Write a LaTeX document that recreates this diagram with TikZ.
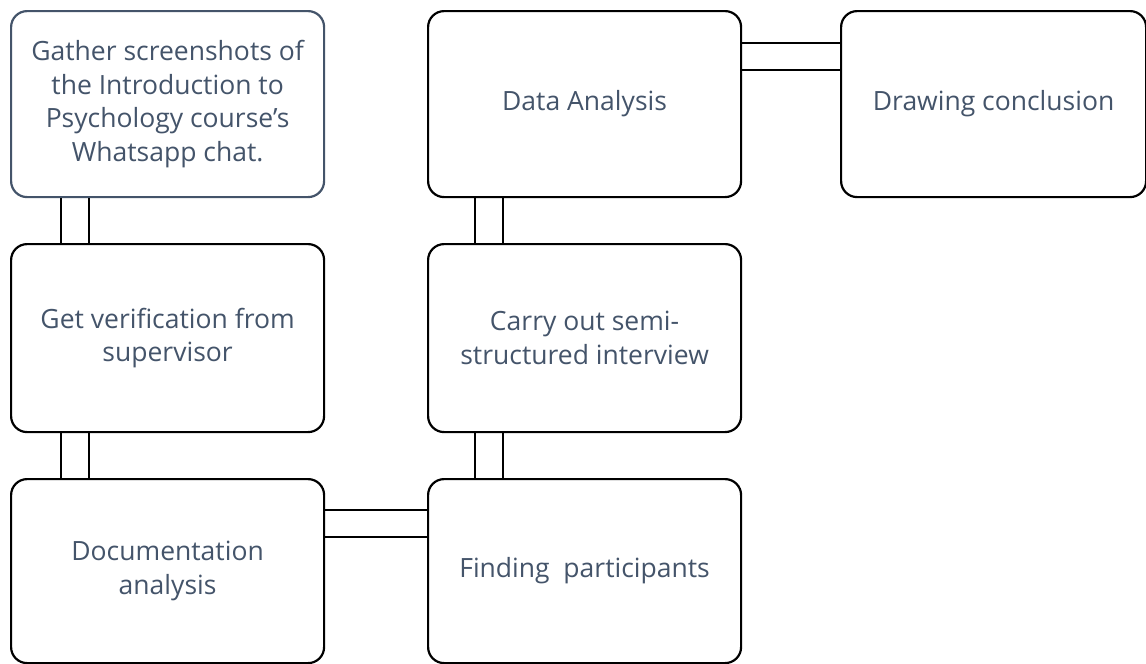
\documentclass[tikz,border=0pt]{standalone}
\usepackage{fontspec}
\setmainfont{Open Sans}[Ligatures=ResetAll]
\usetikzlibrary{calc}
\definecolor{txt}{HTML}{44546A}
\tikzset{
  box/.style={draw=black, line width=2.2pt, rounded corners=16pt, fill=white,
    anchor=north west, align=center, text=txt, inner sep=0pt,
    font=\fontsize{26.5}{33.5}\selectfont, minimum width=313pt},
  link/.style={draw=black, line width=2.2pt}
}
\begin{document}
\begin{tikzpicture}[x=1pt,y=-1pt]
\useasboundingbox (0,0) rectangle (1146,664);
\node[box, draw=txt, minimum height=186pt] (b1) at (10,10) {Gather screenshots of\\the Introduction to\\Psychology course's\\Whatsapp chat.};
\node[box, minimum height=188pt] (b2) at (10,243) {Get verification from\\supervisor};
\node[box, minimum height=184pt] (b3) at (10,478) {Documentation\\analysis};
\node[box, minimum height=184pt] (b4) at (427,478) {Finding\ \ participants};
\node[box, minimum height=188pt] (b5) at (427,243) {Carry out semi-\\structured interview};
\node[box, minimum height=186pt] (b6) at (427,10) {Data Analysis};
\node[box, minimum height=186pt, minimum width=305pt] (b7) at (840,10) {Drawing conclusion};
% links b1-b2
\draw[link] ([xshift=51pt]b1.south west) -- ([xshift=51pt]b1.south west |- b2.north);
\draw[link] ([xshift=79pt]b1.south west) -- ([xshift=79pt]b1.south west |- b2.north);
% links b2-b3
\draw[link] ([xshift=51pt]b2.south west) -- ([xshift=51pt]b2.south west |- b3.north);
\draw[link] ([xshift=79pt]b2.south west) -- ([xshift=79pt]b2.south west |- b3.north);
% links b3-b4
\draw[link] ([yshift=-32pt]b3.north east) -- ([yshift=-32pt]b3.north east -| b4.west);
\draw[link] ([yshift=-59pt]b3.north east) -- ([yshift=-59pt]b3.north east -| b4.west);
% links b4-b5
\draw[link] ([xshift=48pt]b4.north west) -- ([xshift=48pt]b4.north west |- b5.south);
\draw[link] ([xshift=76pt]b4.north west) -- ([xshift=76pt]b4.north west |- b5.south);
% links b5-b6
\draw[link] ([xshift=48pt]b5.north west) -- ([xshift=48pt]b5.north west |- b6.south);
\draw[link] ([xshift=76pt]b5.north west) -- ([xshift=76pt]b5.north west |- b6.south);
% links b6-b7
\draw[link] ([yshift=-33pt]b6.north east) -- ([yshift=-33pt]b6.north east -| b7.west);
\draw[link] ([yshift=-60pt]b6.north east) -- ([yshift=-60pt]b6.north east -| b7.west);
\end{tikzpicture}
\end{document}
